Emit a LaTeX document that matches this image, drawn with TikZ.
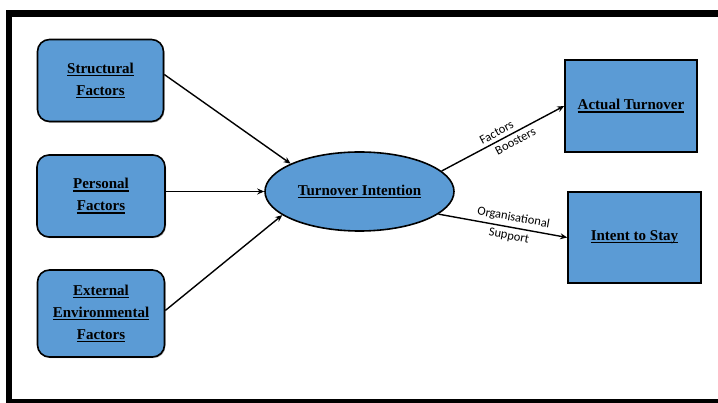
\documentclass[tikz,border=0pt]{standalone}
\usepackage{fontspec}
\setmainfont{Liberation Serif}
\newfontfamily\labelfont{Carlito}
\usepackage{xcolor}
\usetikzlibrary{arrows.meta,shapes.geometric,shadows}

\definecolor{boxblue}{RGB}{91,155,213}
% thick underline for the box titles
\newcommand{\udl}[1]{\setbox0\hbox{#1}\rlap{\rule[-2.6pt]{\wd0}{1.1pt}}\box0}

\begin{document}
\begin{tikzpicture}[>={Stealth[length=7pt,width=6pt]}, x=1pt, y=-1pt,
  factor/.style={draw, line width=1.6pt, fill=boxblue, rounded corners=12pt,
    align=center, font=\fontsize{15}{22}\selectfont\bfseries,
    drop shadow={shadow xshift=1pt, shadow yshift=-1.2pt, opacity=.6}},
  outcome/.style={draw, line width=1.6pt, fill=boxblue, align=center,
    font=\fontsize{15}{22}\selectfont\bfseries},
  link/.style={->, line width=1.4pt},
  lbl/.style={font=\labelfont\fontsize{12.5}{14}\selectfont, sloped, inner sep=3.5pt}]
  \useasboundingbox (0,0) rectangle (718,403);
  \clip (0,0) rectangle (718,403);

  % Frame
  \draw[line width=6.5pt] (9,13.5) rectangle (726,402.5);

  % Factors (left column)
  \node[factor, minimum width=126, minimum height=82] (struct) at (100.5,80.5)
    {\udl{Structural}\\\udl{Factors}};
  \node[factor, minimum width=128, minimum height=82] (pers) at (101,196)
    {\udl{Personal}\\\udl{Factors}};
  \node[factor, minimum width=127, minimum height=87] (ext) at (101,313.5)
    {\udl{External}\\\udl{Environmental}\\\udl{Factors}};

  % Turnover intention
  \node[ellipse, draw, line width=1.6pt, fill=boxblue, minimum width=189,
    minimum height=79, font=\fontsize{15}{22}\selectfont\bfseries]
    (tint) at (359.5,191.5) {\udl{Turnover Intention}};

  % Outcomes
  \node[outcome, minimum width=132, minimum height=92] (act) at (631,106)
    {\udl{Actual Turnover}};
  \node[outcome, minimum width=133, minimum height=91] (stay) at (634.5,237.5)
    {\udl{Intent to Stay}};

  % Links
  \draw[link] ([yshift=6pt]struct.east) -- (tint.158);
  \draw[link] (pers.east |- tint) -- (tint.west);
  \draw[link] ([yshift=3pt]ext.east) -- (tint.197);
  \draw[link] (tint.14) -- (act.west)
    node[lbl, pos=0.48, above] {Factors}
    node[lbl, pos=0.57, below] {Boosters};
  \draw[link] (tint.344) -- (stay.west)
    node[lbl, pos=0.57, above] {Organisational}
    node[lbl, pos=0.56, below] {Support};
\end{tikzpicture}
\end{document}
